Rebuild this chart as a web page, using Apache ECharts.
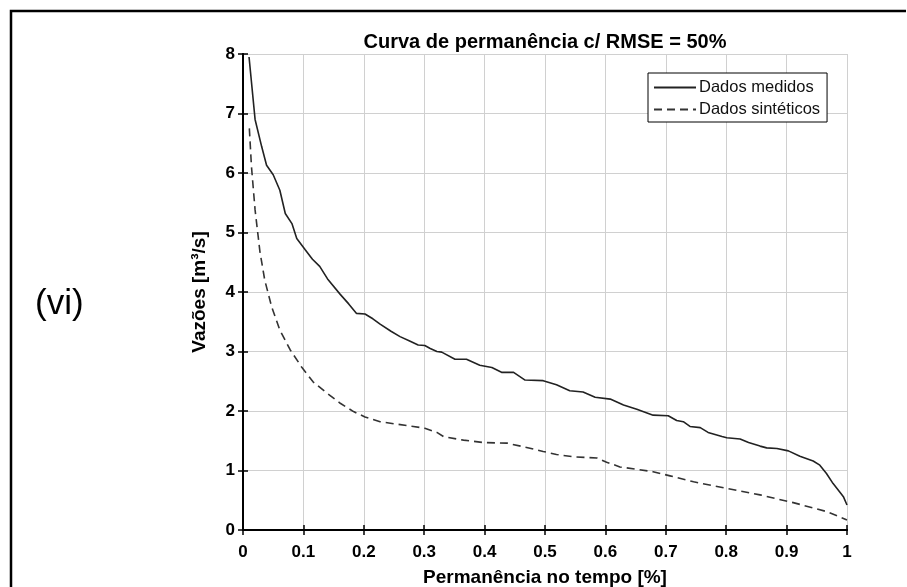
<!DOCTYPE html>
<html>
<head>
<meta charset="utf-8">
<script src="https://cdn.jsdelivr.net/npm/echarts@6/dist/echarts.min.js"></script>
<style>
  html, body { margin: 0; padding: 0; background: #fff; }
  #chart { width: 907px; height: 587px; }
</style>
</head>
<body>
<div id="chart"></div>
<script>
// Flow-duration curve: measured vs synthetic discharges
const chartTitle = 'Curva de permanência c/ RMSE = 50%';
const xAxisName = 'Permanência no tempo [%]';
const yAxisName = 'Vazões [m³/s]';
const panelTag = '(vi)';
const seriesNames = ['Dados medidos', 'Dados sintéticos'];

const xTickLabels = ['0', '0.1', '0.2', '0.3', '0.4', '0.5', '0.6', '0.7', '0.8', '0.9', '1'];
const yTickLabels = ['0', '1', '2', '3', '4', '5', '6', '7', '8'];

const measuredX = [0.01, 0.02, 0.031, 0.039, 0.05, 0.061, 0.07, 0.081, 0.089, 0.103,
  0.115, 0.127, 0.14, 0.161, 0.175, 0.188, 0.202, 0.215, 0.227, 0.245,
  0.26, 0.275, 0.29, 0.301, 0.31, 0.321, 0.329, 0.351, 0.37, 0.392,
  0.412, 0.428, 0.448, 0.467, 0.497, 0.519, 0.541, 0.563, 0.583, 0.608,
  0.63, 0.652, 0.679, 0.704, 0.718, 0.729, 0.74, 0.757, 0.77, 0.793,
  0.801, 0.823, 0.837, 0.856, 0.867, 0.884, 0.903, 0.922, 0.944, 0.955,
  0.966, 0.977, 0.988, 0.994, 1.0];
const measuredY = [7.95, 6.9, 6.44, 6.13, 5.97, 5.71, 5.32, 5.15, 4.9, 4.71,
  4.55, 4.43, 4.22, 3.96, 3.8, 3.64, 3.63, 3.55, 3.46, 3.34,
  3.25, 3.18, 3.11, 3.1, 3.05, 3.0, 2.99, 2.87, 2.87, 2.77,
  2.73, 2.65, 2.65, 2.52, 2.51, 2.44, 2.34, 2.32, 2.23, 2.2,
  2.1, 2.03, 1.93, 1.92, 1.84, 1.82, 1.74, 1.72, 1.64, 1.57,
  1.55, 1.53, 1.47, 1.41, 1.38, 1.37, 1.33, 1.24, 1.16, 1.09,
  0.95, 0.78, 0.64, 0.56, 0.42];

const syntheticX = [0.0105, 0.014, 0.02, 0.028, 0.036, 0.0475, 0.061, 0.078, 0.097, 0.116,
  0.139, 0.161, 0.183, 0.202, 0.227, 0.254, 0.282, 0.301, 0.321, 0.332,
  0.365, 0.398, 0.437, 0.464, 0.497, 0.519, 0.547, 0.586, 0.602, 0.624,
  0.652, 0.679, 0.707, 0.746, 0.801, 0.856, 0.911, 0.966, 1.0];
const syntheticY = [6.75, 6.11, 5.38, 4.68, 4.2, 3.75, 3.36, 3.03, 2.74, 2.49,
  2.3, 2.13, 1.99, 1.9, 1.82, 1.78, 1.74, 1.71, 1.64, 1.57,
  1.51, 1.47, 1.46, 1.4, 1.32, 1.27, 1.23, 1.21, 1.14, 1.06,
  1.02, 0.98, 0.91, 0.81, 0.7, 0.59, 0.46, 0.31, 0.17];

const zip = (xs, ys) => xs.map((x, i) => [x, ys[i]]);
const FONT = '"Liberation Sans", Arial, sans-serif';

const chart = echarts.init(document.getElementById('chart'), null, { renderer: 'canvas' });

// top and right axes only close the box and carry inward ticks
const boxAxis = {
  show: true,
  axisLine: { show: true, lineStyle: { color: '#000', width: 2 } },
  axisTick: { show: true, inside: true, length: 5, lineStyle: { color: '#000', width: 1.5 } },
  axisLabel: { show: false },
  splitLine: { show: false }
};

chart.setOption({
  animation: false,
  backgroundColor: '#fff',
  title: {
    text: chartTitle,
    left: 540,
    top: 27,
    textAlign: 'center',
    textStyle: { fontFamily: FONT, fontSize: 20, fontWeight: 'bold', color: '#000' }
  },
  grid: { left: 243, right: 60, top: 54, bottom: 57, containLabel: false, outerBoundsMode: 'none' },
  legend: {
    orient: 'vertical',
    left: 648,
    top: 73,
    padding: [6, 7, 4, 5],
    itemGap: 5,
    itemWidth: 42,
    itemHeight: 10,
    borderColor: '#000',
    borderWidth: 1,
    backgroundColor: '#fff',
    borderRadius: 0,
    itemStyle: { opacity: 0 },
    textStyle: { fontFamily: FONT, fontSize: 16.5, color: '#111', padding: [0, 0, 0, -2] },
    data: seriesNames
  },
  xAxis: [{
    type: 'value',
    min: 0,
    max: 1,
    interval: 0.1,
    name: xAxisName,
    nameLocation: 'middle',
    nameGap: 38,
    nameTextStyle: { fontFamily: FONT, fontSize: 19, fontWeight: 'bold', color: '#000' },
    axisLine: { show: true, lineStyle: { color: '#000', width: 2 } },
    axisTick: { show: true, inside: true, length: 5, lineStyle: { color: '#000', width: 1.5 } },
    axisLabel: {
      margin: 14,
      fontFamily: FONT, fontSize: 17, fontWeight: 'bold', color: '#000',
      formatter: (v) => xTickLabels[Math.round(v * 10)]
    },
    splitLine: { show: true, lineStyle: { color: '#d0d0d0', width: 1 } }
  }, Object.assign({ type: 'value', position: 'top', min: 0, max: 1, interval: 0.1 }, boxAxis)],
  yAxis: [{
    type: 'value',
    min: 0,
    max: 8,
    interval: 1,
    name: yAxisName,
    nameLocation: 'middle',
    nameGap: 34,
    nameTextStyle: { fontFamily: FONT, fontSize: 19, fontWeight: 'bold', color: '#000' },
    axisLine: { show: true, lineStyle: { color: '#000', width: 2 } },
    axisTick: { show: true, inside: true, length: 5, lineStyle: { color: '#000', width: 1.5 } },
    axisLabel: {
      margin: 8,
      fontFamily: FONT, fontSize: 17, fontWeight: 'bold', color: '#000',
      formatter: (v) => yTickLabels[Math.round(v)]
    },
    splitLine: { show: true, lineStyle: { color: '#d0d0d0', width: 1 } }
  }, Object.assign({ type: 'value', position: 'right', min: 0, max: 8, interval: 1 }, boxAxis)],
  graphic: [
    {
      type: 'polyline',
      shape: { points: [[11, 600], [11, 11], [906, 11]] },
      style: { stroke: '#000', lineWidth: 2.5, fill: null },
      silent: true
    },
    {
      type: 'text',
      left: 35,
      top: 287,
      style: { text: panelTag, fontFamily: FONT, fontSize: 35, fill: '#000' },
      silent: true
    }
  ],
  series: [
    {
      name: seriesNames[0],
      type: 'line',
      data: zip(measuredX, measuredY),
      showSymbol: false,
      symbol: 'none',
      lineStyle: { color: '#222', width: 1.6, type: 'solid' },
      itemStyle: { color: '#222' },
      z: 3
    },
    {
      name: seriesNames[1],
      type: 'line',
      data: zip(syntheticX, syntheticY),
      showSymbol: false,
      symbol: 'none',
      lineStyle: { color: '#333', width: 1.6, type: [8, 5] },
      itemStyle: { color: '#333' },
      z: 3
    }
  ]
});
</script>
</body>
</html>
